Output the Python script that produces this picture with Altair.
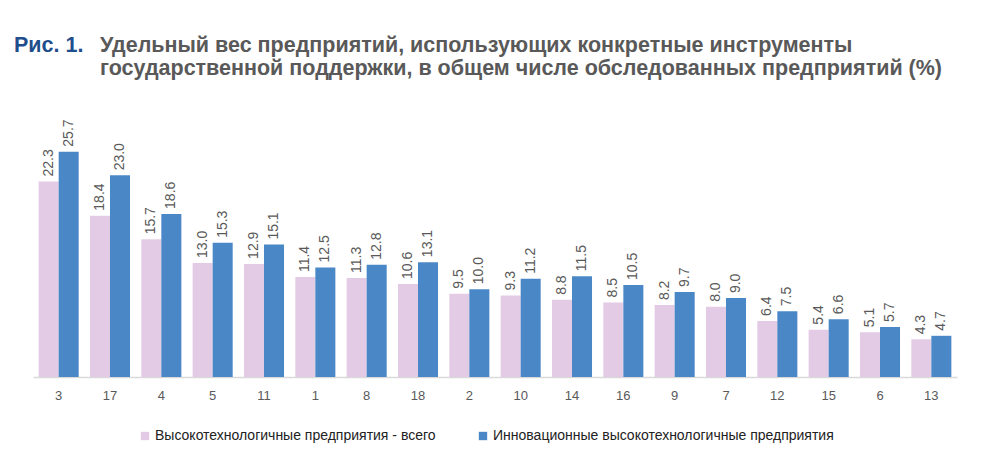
import altair as alt
import pandas as pd

categories = ["3", "17", "4", "5", "11", "1", "8", "18", "2", "10", "14", "16", "9", "7", "12", "15", "6", "13"]
series_names = ["Высокотехнологичные предприятия - всего", "Инновационные  высокотехнологичные предприятия"]
total_vals = [22.3, 18.4, 15.7, 13.0, 12.9, 11.4, 11.3, 10.6, 9.5, 9.3, 8.8, 8.5, 8.2, 8.0, 6.4, 5.4, 5.1, 4.3]
innov_vals = [25.7, 23.0, 18.6, 15.3, 15.1, 12.5, 12.8, 13.1, 10.0, 11.2, 11.5, 10.5, 9.7, 9.0, 7.5, 6.6, 5.7, 4.7]
title_prefix = "Рис. 1."
title_lines = ["Удельный вес предприятий, использующих конкретные инструменты",
               "государственной поддержки, в общем числе обследованных предприятий (%)"]

rows = []
for c, a, b in zip(categories, total_vals, innov_vals):
    rows.append({"cat": c, "series": series_names[0], "value": a})
    rows.append({"cat": c, "series": series_names[1], "value": b})
df = pd.DataFrame(rows)

FONT = "Liberation Sans, Arial, sans-serif"
GRAY = "#595959"

x = alt.X("cat:N", sort=categories, title=None,
          scale=alt.Scale(paddingInner=0.22, paddingOuter=0.11),
          axis=alt.Axis(labelAngle=0, ticks=False, domainColor="#D9D9D9", domainWidth=1.5,
                        labelFont=FONT, labelFontSize=13, labelColor=GRAY, labelPadding=12))
y = alt.Y("value:Q", scale=alt.Scale(domain=[0, 30]), axis=None)
xo = alt.XOffset("series:N", sort=series_names)
color = alt.Color("series:N", sort=series_names,
                  scale=alt.Scale(domain=series_names, range=["#E3CBE5", "#4A87C6"]),
                  legend=alt.Legend(title=None, orient="none", direction="horizontal",
                                    legendX=105, legendY=315, symbolType="square", symbolSize=70,
                                    symbolStrokeWidth=0, labelFont=FONT, labelFontSize=14,
                                    labelColor="#222222", columnPadding=40, labelOffset=3,
                                    labelLimit=0, padding=0))

base = alt.Chart(df)
bars = base.mark_bar().encode(x=x, xOffset=xo, y=y, color=color)
labels = base.mark_text(angle=270, align="left", baseline="middle", dx=5,
                        font=FONT, fontSize=14, color=GRAY).encode(
    x=x, xOffset=xo, y=y, text=alt.Text("value:Q", format=".1f"))

tdf = pd.DataFrame({"t": [title_prefix], "l1": [title_lines[0]], "l2": [title_lines[1]]})
tbase = alt.Chart(tdf)
t0 = tbase.mark_text(align="left", baseline="alphabetic", font=FONT, fontSize=21.5,
                     fontWeight="bold", color="#1F4E8C").encode(
    x=alt.value(-19), y=alt.value(-62), text="t:N")
t1 = tbase.mark_text(align="left", baseline="alphabetic", font=FONT, fontSize=21.5,
                     fontWeight="bold", color=GRAY).encode(
    x=alt.value(67), y=alt.value(-62), text="l1:N")
t2 = tbase.mark_text(align="left", baseline="alphabetic", font=FONT, fontSize=21.5,
                     fontWeight="bold", color=GRAY).encode(
    x=alt.value(67), y=alt.value(-39), text="l2:N")

chart = alt.layer(bars, labels, t0, t1, t2).properties(
    width=924, height=263,
    background="white",
    autosize=alt.AutoSizeParams(type="none"),
    padding={"left": 25, "top": 106, "right": 14, "bottom": 70},
).configure_view(stroke=None)

chart.save("out.html", embed_options={"renderer": "svg", "actions": False})
